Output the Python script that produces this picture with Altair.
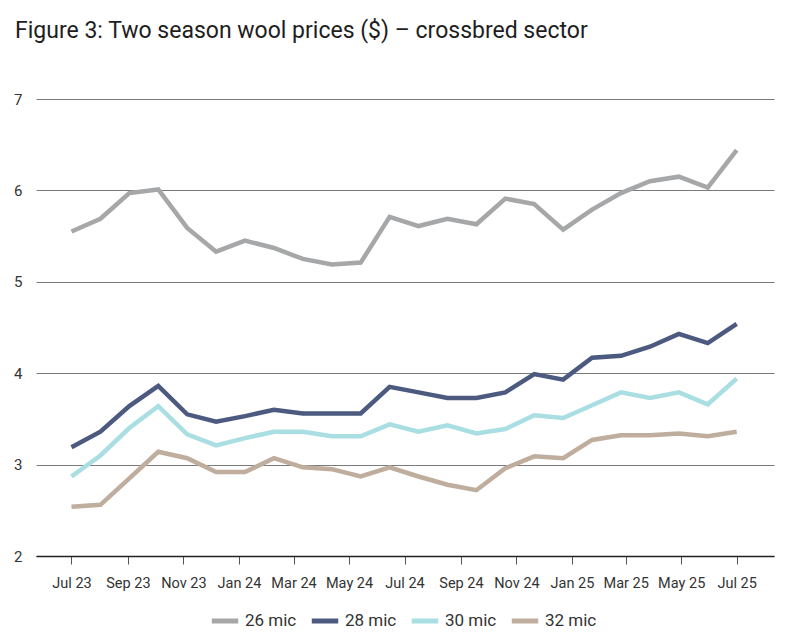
import altair as alt
import pandas as pd

series_names = ["26 mic", "28 mic", "30 mic", "32 mic"]
series_colors = ["#A6A7A9", "#4C5A80", "#A9DEE2", "#BFAD9D"]

mic26 = [5.55, 5.69, 5.97, 6.01, 5.59, 5.33, 5.45, 5.37, 5.25, 5.19, 5.21, 5.71,
         5.61, 5.69, 5.63, 5.91, 5.85, 5.57, 5.79, 5.97, 6.10, 6.15, 6.03, 6.44]
mic28 = [3.19, 3.36, 3.64, 3.86, 3.55, 3.47, 3.53, 3.60, 3.56, 3.56, 3.56, 3.85,
         3.79, 3.73, 3.73, 3.79, 3.99, 3.93, 4.17, 4.19, 4.29, 4.43, 4.33, 4.54]
mic30 = [2.87, 3.10, 3.40, 3.64, 3.33, 3.21, 3.29, 3.36, 3.36, 3.31, 3.31, 3.44,
         3.36, 3.43, 3.34, 3.39, 3.54, 3.51, 3.65, 3.79, 3.73, 3.79, 3.66, 3.94]
mic32 = [2.54, 2.56, 2.85, 3.14, 3.07, 2.92, 2.92, 3.07, 2.97, 2.95, 2.87, 2.97,
         2.87, 2.78, 2.72, 2.96, 3.09, 3.07, 3.27, 3.32, 3.32, 3.34, 3.31, 3.36]

start_date = "2023-07-01"
end_date = "2025-07-01"
domain_start = "2023-05-23T00:00:00Z"
domain_end = "2025-08-11T00:00:00Z"

dates = pd.date_range(start_date, end_date, periods=len(mic26))
date_str = [d.strftime("%Y-%m-%dT%H:%M:%SZ") for d in dates]

rows = []
for name, vals in zip(series_names, [mic26, mic28, mic30, mic32]):
    for d, v in zip(date_str, vals):
        rows.append({"date": d, "series": name, "price": v})
df = pd.DataFrame(rows)

FONT = "Roboto"

chart = alt.Chart(df).mark_line(strokeWidth=4.5).encode(
    x=alt.X(
        "date:T",
        scale=alt.Scale(type="utc", domain=[domain_start, domain_end]),
        axis=alt.Axis(
            title=None,
            labelExpr="utcFormat(datum.value, '%b %y')",
            tickCount={"interval": "month", "step": 2},
            labelOverlap=False,
            grid=False,
            domainColor="#222222",
            domainWidth=1.5,
            tickColor="#555555",
            tickSize=8,
            tickWidth=1,
            labelFontSize=14.5,
            labelColor="#333333",
            labelPadding=12,
            labelFont=FONT,
            labelFlush=False,
        ),
    ),
    y=alt.Y(
        "price:Q",
        scale=alt.Scale(domain=[2, 7], nice=False, zero=False),
        axis=alt.Axis(
            title=None,
            values=[2, 3, 4, 5, 6, 7],
            grid=True,
            gridColor="#7A7A7A",
            gridWidth=1.2,
            domain=False,
            ticks=False,
            labelFontSize=15,
            labelColor="#333333",
            labelPadding=14,
            labelFont=FONT,
        ),
    ),
    color=alt.Color(
        "series:N",
        scale=alt.Scale(domain=series_names, range=series_colors),
        legend=alt.Legend(
            title=None,
            orient="none",
            direction="horizontal",
            legendX=173,
            legendY=506,
            symbolType="stroke",
            symbolStrokeWidth=5,
            symbolSize=700,
            labelFontSize=17,
            labelColor="#333333",
            labelFont=FONT,
            columnPadding=4,
            labelOffset=4,
        ),
    ),
).properties(
    width=738,
    height=457,
    padding={"left": 28, "top": 91, "right": 10, "bottom": 86},
    autosize=alt.AutoSizeParams(type="none"),
    title=alt.TitleParams(
        "Figure 3: Two season wool prices ($) – crossbred sector",
        anchor="start",
        frame="group",
        fontSize=23,
        fontWeight="normal",
        font=FONT,
        color="#1E1E1E",
        dx=-21,
        offset=31,
        baseline="alphabetic",
    ),
).configure_view(stroke=None)

chart.save("out.html", embed_options={"renderer": "svg", "actions": False})
